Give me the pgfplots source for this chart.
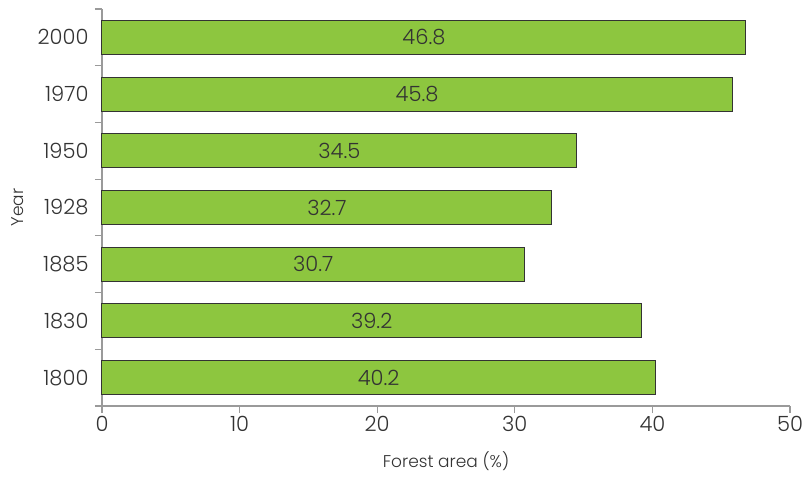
\documentclass[border=0pt]{standalone}
\usepackage{fontspec}
\setmainfont{Poppins}[UprightFont=* Light]
\usepackage{pgfplots}
\pgfplotsset{compat=1.18}
\usepackage{pgfplotstable}

\definecolor{barGreen}{HTML}{8DC63F}
\definecolor{barEdge}{HTML}{333333}
\definecolor{axisGray}{HTML}{9A9A9A}
\definecolor{txt}{HTML}{333333}

% Forest area by year (%), bottom row first
\pgfplotstableread{
pos year v
0 1800 40.2
1 1830 39.2
2 1885 30.7
3 1928 32.7
4 1950 34.5
5 1970 45.8
6 2000 46.8
}\forest

\begin{document}
\begin{tikzpicture}[x=1pt,y=1pt]
\begin{axis}[
  scale only axis,
  width=688pt, height=397pt,
  xmin=0, xmax=50,
  ymin=-0.5, ymax=6.5,
  xtick={0,10,...,50},
  ytick={0,...,6},
  yticklabels={1800,1830,1885,1928,1950,1970,2000},
  minor ytick={-0.5,0.5,...,6.5},
  major y tick style={draw=none},
  minor y tick style={draw=axisGray, line width=1.2pt},
  minor tick length=7pt,
  x tick style={draw=axisGray, line width=1.2pt},
  major tick length=7pt,
  tick align=outside,
  axis x line*=bottom,
  axis y line*=left,
  axis line style={draw=axisGray, line width=1.2pt},
  /pgf/number format/assume math mode=true,
  tick label style={font=\fontsize{21}{24}\selectfont, text=txt},
  yticklabel style={xshift=-3pt},
  xticklabel style={yshift=0pt},
  xlabel={Forest area (\%)},
  ylabel={Year},
  label style={font=\fontsize{17}{20}\selectfont, text=txt},
  xlabel style={yshift=-13pt},
  ylabel style={yshift=7pt},
  clip=false,
]
\addplot[xbar, bar width=0.6, fill=barGreen, draw=barEdge, line width=1pt]
  table[x=v, y=pos] {\forest};
% value labels, centred in each bar
\addplot[draw=none, mark=none,
  nodes near coords,
  point meta=explicit,
  nodes near coords style={anchor=center, font=\fontsize{21}{24}\selectfont, text=txt,
    /pgf/number format/.cd, fixed, fixed zerofill, precision=1, assume math mode=true}]
  table[x expr=\thisrow{v}/2, y=pos, meta=v] {\forest};
\end{axis}
\pgfresetboundingbox
\path[use as bounding box] (current axis.south west) ++(-102pt,-71pt) rectangle ([xshift=14pt,yshift=9pt]current axis.north east);
\end{tikzpicture}
\end{document}
